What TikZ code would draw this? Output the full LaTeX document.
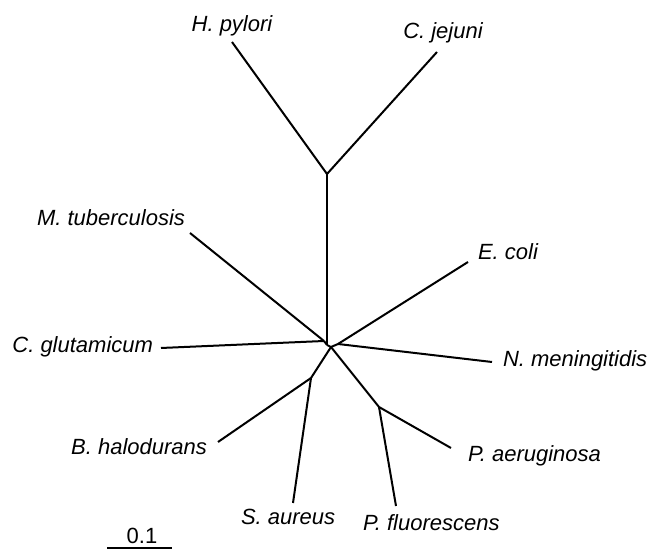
\documentclass[tikz,border=0pt]{standalone}
\usepackage{fontspec}
\setmainfont{Liberation Sans}
\usetikzlibrary{positioning}
\definecolor{ink}{HTML}{000000}
\tikzset{
  every picture/.style={line width=1pt,font=\fontsize{11}{13}\selectfont},
  br/.style={draw=ink,line width=1pt},
  sp/.style={font=\fontsize{11}{13}\selectfont\itshape,text=ink,inner sep=0pt},
  scl/.style={font=\fontsize{11}{13}\selectfont,text=ink,inner sep=0pt},
}
\begin{document}
\begin{tikzpicture}[x=0.5pt,y=-0.5pt]
  \useasboundingbox (0,0) rectangle (649,550);
  \coordinate (hc) at (327,174);
  \coordinate (m0) at (324,341);
  \coordinate (m1) at (327,345);
  \coordinate (m2) at (331,347);
  \coordinate (m3) at (338,344);
  \coordinate (bs) at (311,378);
  \coordinate (pp) at (379,407);
  \coordinate (tHp) at (232,42);
  \coordinate (tCj) at (437,52);
  \coordinate (tMt) at (190,233);
  \coordinate (tCg) at (161,348);
  \coordinate (tEc) at (468,262);
  \coordinate (tNm) at (492,362);
  \coordinate (tBh) at (218,442);
  \coordinate (tSa) at (293,503);
  \coordinate (tPa) at (451,448);
  \coordinate (tPf) at (396,506);
  \node[sp,anchor=base] (Hp) at (232,32) {H. pylori};
  \node[sp,anchor=base] (Cj) at (443,39) {C. jejuni};
  \node[sp,anchor=base east] (Mt) at (186,226) {M. tuberculosis};
  \node[sp,anchor=base east] (Cg) at (154,353) {C. glutamicum};
  \node[sp,anchor=base west] (Ec) at (477,260) {E. coli};
  \node[sp,anchor=base west] (Nm) at (502,367) {N. meningitidis};
  \node[sp,anchor=base east] (Bh) at (208,455) {B. halodurans};
  \node[sp,anchor=base west] (Sa) at (240,525) {S. aureus};
  \node[sp,anchor=base west] (Pa) at (467,462) {P. aeruginosa};
  \node[sp,anchor=base west] (Pf) at (362,531) {P. fluorescens};
  \foreach \a/\b in {hc/tHp,hc/tCj,hc/m1,m0/tMt,m0/tCg,m0/m1,m1/m2,m2/m3,m3/tEc,m3/tNm,m2/bs,bs/tBh,bs/tSa,m2/pp,pp/tPa,pp/tPf}
    \draw[br] (\a) -- (\b);
  \coordinate (s0) at (107,548);
  \coordinate (s1) at (172,548);
  \draw[br] (s0) -- (s1);
  \node[scl,anchor=base] (sc) at (142,544) {0.1};
\end{tikzpicture}
\end{document}
